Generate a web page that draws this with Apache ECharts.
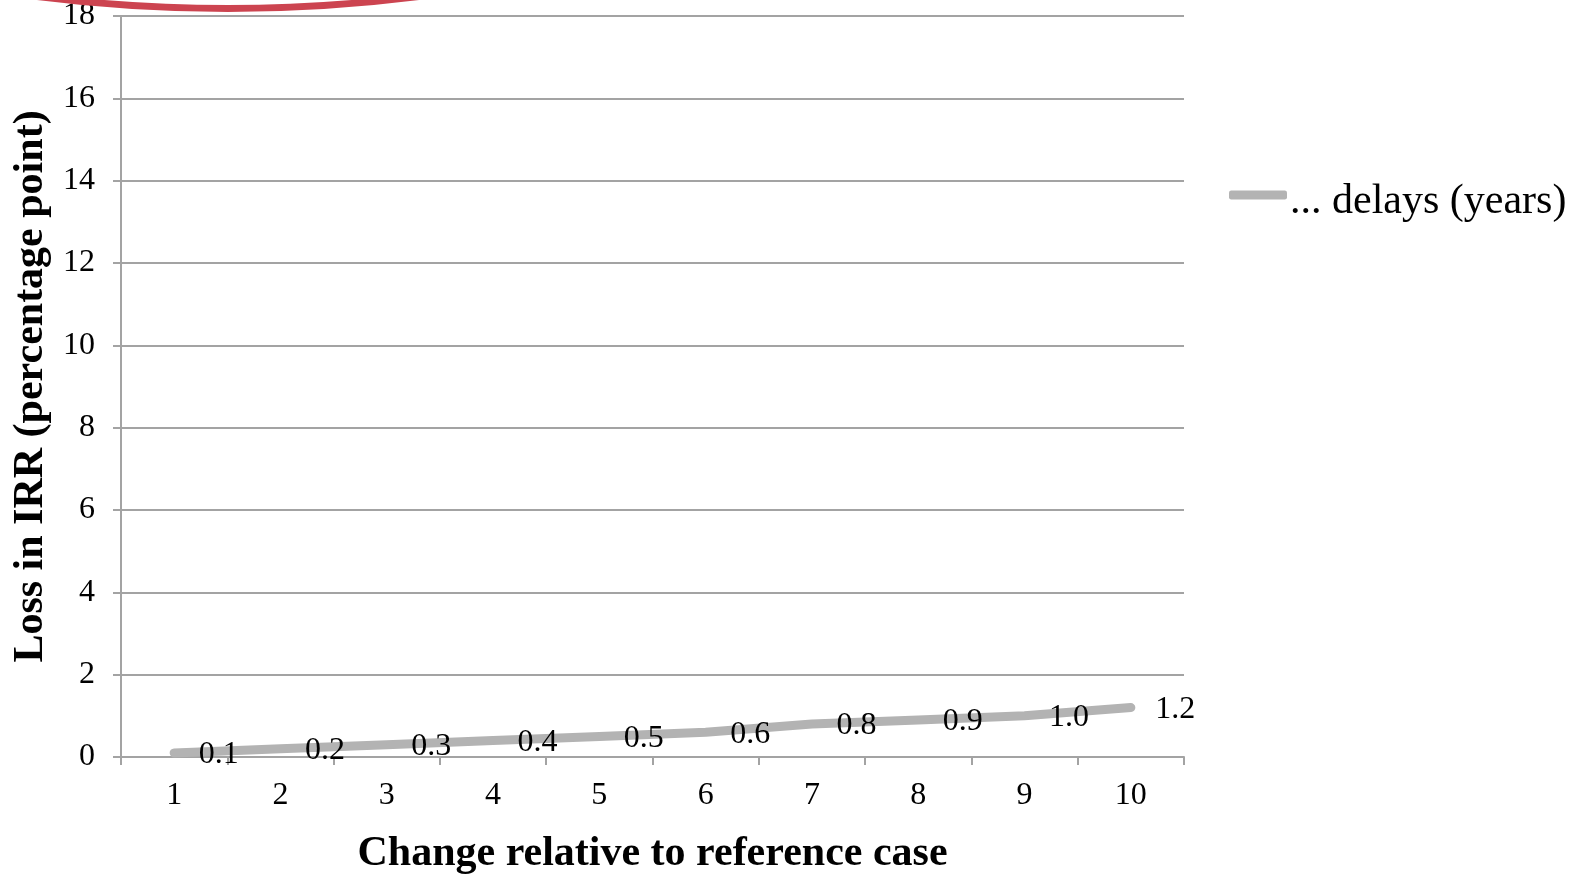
<!DOCTYPE html>
<html>
<head>
<meta charset="utf-8">
<script src="https://cdn.jsdelivr.net/npm/echarts@6/dist/echarts.min.js"></script>
<style>
  html, body { margin: 0; padding: 0; background: #fff; }
  #chart { width: 1574px; height: 876px; }
</style>
</head>
<body>
<div id="chart"></div>
<script>
// Loss in IRR for increasing construction delays
const categories = ['1', '2', '3', '4', '5', '6', '7', '8', '9', '10'];
const delayLoss = [0.1, 0.2, 0.3, 0.4, 0.5, 0.6, 0.8, 0.9, 1.0, 1.2];
const seriesName = '... delays (years)';
const yMin = 0, yMax = 18, yStep = 2;

const serif = 'Liberation Serif, Times New Roman, serif';
const axisGray = '#a3a3a3';
const lineGray = '#b3b3b3';

const chart = echarts.init(document.getElementById('chart'), null, { renderer: 'canvas' });

chart.setOption({
  animation: false,
  backgroundColor: '#ffffff',
  textStyle: { fontFamily: serif },
  grid: { left: 121, right: 390, top: 16, bottom: 119, outerBoundsMode: 'none', containLabel: false },
  legend: {
    left: 1224,
    top: 176,
    orient: 'vertical',
    icon: 'roundRect',
    itemWidth: 58,
    itemHeight: 9,
    itemGap: 10,
    formatter: name => '{t|' + name + '}',
    textStyle: {
      fontFamily: serif, fontSize: 42, color: '#000',
      rich: { t: { fontFamily: serif, fontSize: 42, color: '#000', padding: [14, 0, 0, -2] } }
    },
    data: [{ name: seriesName, itemStyle: { color: lineGray } }]
  },
  xAxis: {
    type: 'category',
    data: categories,
    boundaryGap: true,
    name: 'Change relative to reference case',
    nameLocation: 'middle',
    nameGap: 76,
    nameTextStyle: { fontFamily: serif, fontSize: 42, fontWeight: 'bold', color: '#000' },
    axisLine: { lineStyle: { color: axisGray, width: 2 } },
    axisTick: { show: true, alignWithLabel: false, length: 8, lineStyle: { color: axisGray, width: 2 } },
    axisLabel: { fontFamily: serif, fontSize: 32, color: '#000', margin: 23 },
    splitLine: { show: false }
  },
  yAxis: {
    type: 'value',
    min: yMin,
    max: yMax,
    interval: yStep,
    name: 'Loss in IRR (percentage point)',
    nameLocation: 'middle',
    nameGap: 66,
    nameRotate: 90,
    nameTextStyle: { fontFamily: serif, fontSize: 42, fontWeight: 'bold', color: '#000' },
    axisLine: { show: true, lineStyle: { color: axisGray, width: 2 } },
    axisTick: { show: true, length: 8, lineStyle: { color: axisGray, width: 2 } },
    axisLabel: { fontFamily: serif, fontSize: 32, color: '#000', margin: 26 },
    splitLine: { show: true, lineStyle: { color: axisGray, width: 2 } }
  },
  series: [{
    name: seriesName,
    type: 'line',
    data: delayLoss,
    showSymbol: true,
    symbol: 'circle',
    symbolSize: 1,
    lineStyle: { color: lineGray, width: 9, cap: 'round', join: 'round' },
    itemStyle: { color: lineGray },
    label: {
      show: true,
      position: 'right',
      distance: 24,
      offset: [0, 2],
      fontFamily: serif,
      fontSize: 32,
      color: '#000',
      formatter: p => p.value.toFixed(1)
    },
    z: 3
  }],
  graphic: [{
    type: 'circle',
    shape: { cx: 228, cy: 8.5 - 1500, r: 1500 },
    style: { fill: 'none', stroke: '#cc4450', lineWidth: 7 },
    z: 100
  }]
});
</script>
</body>
</html>
